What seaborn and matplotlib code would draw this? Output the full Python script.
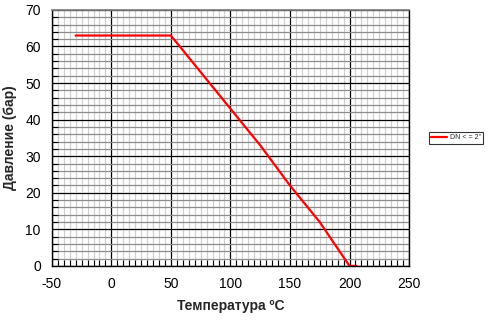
import matplotlib
matplotlib.use("Agg")
import matplotlib.pyplot as plt
import seaborn as sns
import pandas as pd
from matplotlib.ticker import MultipleLocator

temperature = [-30, 50, 75, 100, 125, 150, 175, 200, 206]
pressure = [63, 63, 53, 43, 33, 22, 12, 0, 0]
series_name = 'DN < = 2"'
x_ticks = [-50, 0, 50, 100, 150, 200, 250]
y_ticks = [0, 10, 20, 30, 40, 50, 60, 70]

sns.set_theme(style="white")
plt.rcParams["font.family"] = ["Liberation Sans", "DejaVu Sans"]

df = pd.DataFrame({"T": temperature, "P": pressure, "s": series_name})

fig = plt.figure(figsize=(4.94, 3.2), dpi=100)
ax = fig.add_axes([0.105, 0.169, 0.723, 0.80])

ax.set_xlim(-50, 250)
ax.set_ylim(0, 70)
ax.set_xticks(x_ticks)
ax.set_yticks(y_ticks)
ax.xaxis.set_minor_locator(MultipleLocator(5))
ax.yaxis.set_minor_locator(MultipleLocator(2))
ax.grid(which="minor", axis="x", color="#d0d0d0", lw=0.9)
ax.grid(which="minor", axis="y", color="#8c8c8c", lw=0.9)
ax.grid(which="major", color="black", lw=0.9)
ax.set_axisbelow(True)

sns.lineplot(data=df, x="T", y="P", hue="s", palette=["#ff0000"], lw=1.6,
             ax=ax, sort=False, estimator=None)

ax.tick_params(which="both", direction="in", colors="black", labelsize=10,
               top=False, right=False, bottom=True, left=True)
ax.tick_params(which="major", length=0, pad=8)
ax.tick_params(which="minor", length=4, width=0.8)
ax.set_xticklabels([str(v) for v in x_ticks])
ax.set_yticklabels([str(v) for v in y_ticks])

for s in ["left", "bottom", "right"]:
    ax.spines[s].set_color("black")
    ax.spines[s].set_linewidth(1)
ax.spines["top"].set_color("#808080")

ax.set_xlabel("Температура ºC", fontsize=10, fontweight="bold", labelpad=6)
ax.set_ylabel("Давление (бар)", fontsize=10, fontweight="bold", labelpad=6)

leg = ax.legend(loc="center left", bbox_to_anchor=(1.045, 0.5), fontsize=5,
                frameon=True, fancybox=False, edgecolor="black",
                handlelength=2.4, borderpad=0.3, handletextpad=0.4)
leg.get_frame().set_linewidth(0.8)

fig.savefig("out.png", dpi=100)
